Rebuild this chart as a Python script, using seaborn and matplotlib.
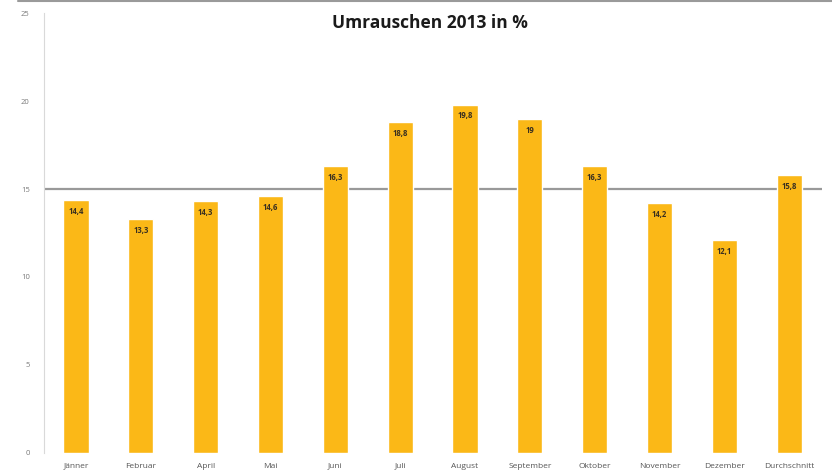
import matplotlib
matplotlib.use("Agg")
import matplotlib.pyplot as plt
import seaborn as sns
import pandas as pd
from matplotlib.lines import Line2D

# Monthly values (%)
months = ["Jänner", "Februar", "April", "Mai", "Juni", "Juli", "August",
          "September", "Oktober", "November", "Dezember", "Durchschnitt"]
values = [14.4, 13.3, 14.3, 14.6, 16.3, 18.8, 19.8, 19.0, 16.3, 14.2, 12.1, 15.8]
value_labels = ["14,4", "13,3", "14,3", "14,6", "16,3", "18,8", "19,8",
                "19", "16,3", "14,2", "12,1", "15,8"]
y_ticks = [0, 5, 10, 15, 20, 25]
reference_level = 15
title = "Umrauschen 2013 in %"

sns.set_theme(style="white")
plt.rcParams["font.family"] = ["Open Sans", "DejaVu Sans"]

df = pd.DataFrame({"Monat": months, "Wert": values})

fig = plt.figure(figsize=(8.32, 4.73), dpi=100)
ax = fig.add_axes([0.0524, 0.0423, 0.9351, 0.9302])

sns.barplot(data=df, x="Monat", y="Wert", color="#FBB817", saturation=1,
            width=0.39, ax=ax, zorder=3)

# reference line at 15 %, drawn behind the bars
ax.axhline(reference_level, color="#999999", lw=1.6, zorder=2)

# value labels inside the top of each bar
for i, (v, lab) in enumerate(zip(values, value_labels)):
    ax.annotate(lab, (i, v), xytext=(0, -5), textcoords="offset points",
                ha="center", va="top", fontsize=5.5, fontweight="bold",
                color="#3a3020", zorder=4)

ax.set_ylim(0, 25)
ax.set_xlim(-0.5, len(months) - 0.5)
ax.set_yticks(y_ticks)
ax.set_yticklabels([str(t) for t in y_ticks], fontsize=5.5, color="#7a7a7a")
ax.tick_params(axis="y", length=0, pad=10)
ax.tick_params(axis="x", length=0, pad=7, labelsize=6, labelcolor="#555555")
ax.set_xlabel("")
ax.set_ylabel("")

for side in ["top", "right", "bottom"]:
    ax.spines[side].set_visible(False)
ax.spines["left"].set_color("#d9d9d9")
ax.spines["left"].set_linewidth(0.8)

fig.text(0.517, 0.952, title, ha="center", va="center", fontsize=12.5,
         fontweight="bold", color="#1a1a1a")

# thin frame line along the top edge
fig.add_artist(Line2D([0.022, 1.0], [0.997, 0.997], transform=fig.transFigure,
                      color="#9a9a9a", lw=1.5))

fig.savefig("out.png", dpi=100)
